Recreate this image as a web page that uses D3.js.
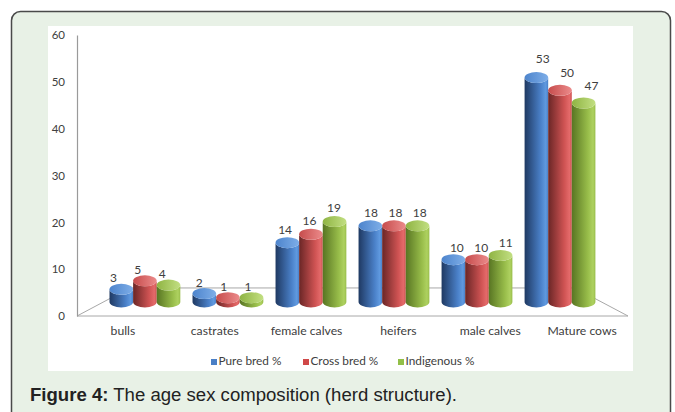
<!DOCTYPE html>
<html>
<head>
<meta charset="utf-8">
<script src="https://cdn.jsdelivr.net/npm/d3@7"></script>
<style>
  html, body { margin: 0; padding: 0; background: #ffffff; }
  svg { display: block; }
</style>
</head>
<body>
<svg id="chart" width="675" height="412"></svg>
<script>
// Herd structure by age/sex class, percentage of each breed group
const categories = ["bulls", "castrates", "female calves", "heifers", "male calves", "Mature cows"];
const seriesNames = ["Pure bred %", "Cross bred %", "Indigenous %"];
const pureBred   = [3, 2, 14, 18, 10, 53];
const crossBred  = [5, 1, 16, 18, 10, 50];
const indigenous = [4, 1, 19, 18, 11, 47];
const yTicks = [0, 10, 20, 30, 40, 50, 60];

const seriesValues = [pureBred, crossBred, indigenous];
const palette = [
  { dark: "#1f3962", mid: "#4a80c8", light: "#609ae0", key: "#4a7fc6", top: ["#4d84cc", "#7eaee8"] },
  { dark: "#6a2626", mid: "#cf5353", light: "#e46a6a", key: "#d04848", top: ["#c64c4c", "#ec8b8b"] },
  { dark: "#587523", mid: "#98bd4a", light: "#aed160", key: "#92bf48", top: ["#8fb443", "#c2df82"] }
];

const svg = d3.select("#chart");
const defs = svg.append("defs");
const uiFont = "Lato, 'Open Sans', sans-serif";

// Caption panel and white plot card
svg.append("rect")
  .attr("x", 11.5).attr("y", 11.5).attr("width", 659).attr("height", 430)
  .attr("rx", 9).attr("fill", "#e8f1e6").attr("stroke", "#4a4a4a").attr("stroke-width", 1.5);
svg.append("rect")
  .attr("x", 48).attr("y", 26).attr("width", 585).attr("height", 345)
  .attr("fill", "#ffffff");

// Front plane of the 3-D box
const frontLeft = 77, frontRight = 628;
const yAxisScale = d3.scaleLinear().domain([0, 60]).range([316, 35]);
const xGroup = d3.scaleBand().domain(categories).range([frontLeft, frontRight])
  .paddingInner(0.147).paddingOuter(0.0735);
const xSeries = d3.scaleBand().domain(seriesNames).range([0, xGroup.bandwidth()]);

// Simple perspective: points recede toward a vanishing point
const vanish = { x: 352, y: 170 };
const depthBack = 0.808, depthBars = 0.904, depthLabels = 0.935;
const proj = (X, Y, k) => [vanish.x + (X - vanish.x) * k, vanish.y + (Y - vanish.y) * k];

// Floor outline
const y0 = yAxisScale(0);
const floorPts = [
  [frontLeft, y0], [frontRight, y0],
  proj(frontRight, y0, depthBack), proj(frontLeft, y0, depthBack)
];
svg.append("path")
  .attr("d", d3.line()(floorPts) + "Z")
  .attr("fill", "none").attr("stroke", "#a8a8a8").attr("stroke-width", 1);

// Value axis
const axisG = svg.append("g")
  .attr("transform", `translate(${frontLeft},0)`)
  .call(d3.axisLeft(yAxisScale).tickValues(yTicks).tickSize(0).tickPadding(12));
axisG.select(".domain").attr("stroke", "#9a9a9a").attr("stroke-width", 1.2);
axisG.selectAll("text")
  .attr("font-family", uiFont).attr("font-size", 11.5)
  .attr("fill", "#404040");

// Gradients for cylinder sides and caps
palette.forEach((c, i) => {
  const side = defs.append("linearGradient").attr("id", `side${i}`)
    .attr("x1", "0%").attr("x2", "100%").attr("y1", "0%").attr("y2", "0%");
  side.append("stop").attr("offset", "0%").attr("stop-color", c.dark);
  side.append("stop").attr("offset", "68%").attr("stop-color", c.mid);
  side.append("stop").attr("offset", "90%").attr("stop-color", c.light);
  side.append("stop").attr("offset", "100%").attr("stop-color", c.mid);
  const cap = defs.append("linearGradient").attr("id", `cap${i}`)
    .attr("x1", "0%").attr("x2", "100%").attr("y1", "0%").attr("y2", "0%");
  cap.append("stop").attr("offset", "0%").attr("stop-color", c.top[0]);
  cap.append("stop").attr("offset", "100%").attr("stop-color", c.top[1]);
});

// Bars as cylinders
const rows = [];
categories.forEach((cat, ci) => {
  seriesNames.forEach((s, si) => {
    rows.push({ cat, s, si, v: seriesValues[si][ci] });
  });
});

const ry = 5.5;
const barG = svg.append("g");
rows.forEach(d => {
  const xl = xGroup(d.cat) + xSeries(d.s);
  const xr = xl + xSeries.bandwidth();
  const [pl, yb] = proj(xl, yAxisScale(0), depthBars);
  const [pr] = proj(xr, yAxisScale(0), depthBars);
  const [, yt] = proj(xl, yAxisScale(d.v), depthBars);
  const rx = (pr - pl) / 2;
  const cx = (pl + pr) / 2;
  const g = barG.append("g");
  g.append("path")
    .attr("d", `M${pl},${yt} L${pl},${yb} A${rx},${ry} 0 0 0 ${pr},${yb} L${pr},${yt} A${rx},${ry} 0 0 1 ${pl},${yt} Z`)
    .attr("fill", `url(#side${d.si})`);
  g.append("ellipse")
    .attr("cx", cx).attr("cy", yt).attr("rx", rx).attr("ry", ry)
    .attr("fill", `url(#cap${d.si})`);
});

// Value labels
rows.forEach(d => {
  const xc = xGroup(d.cat) + xSeries(d.s) + xSeries.bandwidth() / 2;
  const [lx, ly] = proj(xc, yAxisScale(d.v), depthLabels);
  svg.append("text")
    .attr("x", lx).attr("y", ly - 14)
    .attr("text-anchor", "middle").attr("dominant-baseline", "middle")
    .attr("font-family", uiFont).attr("font-size", 12)
    .attr("fill", "#404040")
    .text(d.v);
});

// Category labels
svg.append("g").selectAll("text").data(categories).join("text")
  .attr("x", d => xGroup(d) + xGroup.bandwidth() / 2)
  .attr("y", 332)
  .attr("text-anchor", "middle").attr("dominant-baseline", "middle")
  .attr("font-family", uiFont).attr("font-size", 12.2)
  .attr("fill", "#404040")
  .text(d => d);

// Legend
const legendX = [211, 303, 398];
const legend = svg.append("g").selectAll("g").data(seriesNames).join("g")
  .attr("transform", (d, i) => `translate(${legendX[i]},362)`);
legend.append("rect")
  .attr("x", 0).attr("y", -3).attr("width", 6).attr("height", 6)
  .attr("fill", (d, i) => palette[i].key);
legend.append("text")
  .attr("x", 7.5).attr("y", 0).attr("dominant-baseline", "middle")
  .attr("font-family", uiFont).attr("font-size", 11.8)
  .attr("fill", "#404040")
  .text(d => d);

// Figure caption
const caption = svg.append("text")
  .attr("x", 30).attr("y", 401)
  .attr("font-family", "'Liberation Sans', Arial, sans-serif").attr("font-size", 17.5)
  .attr("textLength", 427).attr("lengthAdjust", "spacingAndGlyphs")
  .attr("fill", "#222222");
caption.append("tspan").attr("font-weight", "bold").text("Figure 4:");
caption.append("tspan").text(" The age sex composition (herd structure).");
</script>
</body>
</html>
